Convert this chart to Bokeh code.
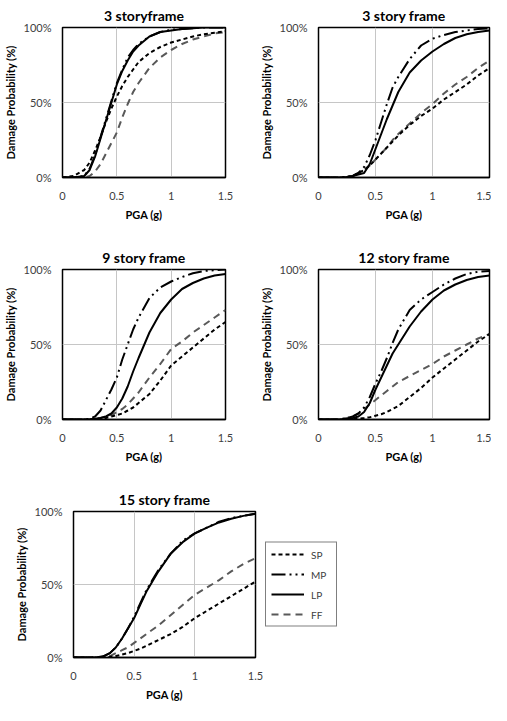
from bokeh.plotting import figure
from bokeh.layouts import column, row
from bokeh.models import Range1d, FixedTicker, Legend, LegendItem
from bokeh.embed import file_html
from bokeh.resources import INLINE

# PGA (g) sample points shared by all curves
pga = [0, 0.1, 0.2, 0.25, 0.3, 0.35, 0.4, 0.45, 0.5, 0.55, 0.6, 0.65, 0.7,
       0.8, 0.9, 1.0, 1.1, 1.2, 1.3, 1.4, 1.5]

titles = ["3 storyframe", "3 story frame", "9 story frame", "12 story frame", "15 story frame"]
series_names = ["SP", "MP", "LP", "FF"]

# Damage probability (%) per panel
sp_3a = [0, 1, 5, 10, 18, 27, 37, 46, 54, 61, 67, 72, 77, 83, 87, 90, 92, 94, 95.5, 96.5, 97.5]
mp_3a = [0, 0, 1, 6, 15, 27, 39, 51, 63, 72, 80, 85, 89, 94, 97, 98.5, 99, 99.5, 100, 100, 100]
lp_3a = [0, 0, 1, 5, 14, 26, 38, 50, 62, 71, 78, 84, 88, 94, 97, 98, 99, 99.5, 100, 100, 100]
ff_3a = [0, 0, 0, 1, 4, 9, 16, 23, 30, 40, 49, 57, 63, 73, 80, 85, 89, 92, 94, 96, 97]

sp_3b = [0, 0, 0, 0.3, 1, 3, 5, 8, 12, 16, 20, 24, 28, 35, 41, 46, 52, 57, 62, 68, 73]
mp_3b = [0, 0, 0, 0.5, 1, 3, 7, 15, 25, 37, 49, 60, 67, 79, 88, 92.5, 95, 97, 98, 99, 99.5]
lp_3b = [0, 0, 0, 0.3, 1, 2, 3, 9, 19, 29, 39, 48, 57, 70, 78, 84, 89, 93, 95.5, 97, 98]
ff_3b = [0, 0, 0, 0.3, 1, 3, 5, 8, 12, 16, 20, 25, 29, 36, 43, 49, 56, 62, 67, 73, 78]

sp_9 = [0, 0, 0, 0, 0.3, 0.6, 1, 2, 3, 4, 6, 8, 11, 17, 26, 36, 42, 48, 54, 60, 65]
mp_9 = [0, 0, 0, 0.5, 2, 6, 13, 20, 28, 40, 50, 60, 68, 81, 88, 92, 95, 97.5, 99, 99.5, 100]
lp_9 = [0, 0, 0, 0.2, 0.5, 1, 2, 4, 8, 14, 22, 32, 41, 58, 71, 80, 87, 91, 94, 96, 97]
ff_9 = [0, 0, 0, 0, 0.5, 1, 2, 3, 5, 7, 10, 14, 18, 28, 37, 47, 52, 58, 63, 68, 73]

sp_12 = [0, 0, 0, 0, 0.3, 0.6, 1, 1.5, 2.5, 3.5, 5, 7, 9, 15, 21, 28, 34, 40, 46, 52, 57]
mp_12 = [0, 0, 0, 1, 2, 4, 8, 15, 24, 32, 41, 51, 60, 73, 80, 85, 90, 94, 97, 98.5, 99]
lp_12 = [0, 0, 0, 0.5, 1, 2, 5, 11, 20, 28, 36, 44, 50, 62, 72, 80, 86, 90, 93, 95, 96]
ff_12 = [0, 0, 0.5, 1, 2, 4, 7, 10, 13, 16, 19, 22, 25, 29, 33, 37, 42, 46, 50, 54, 57]

sp_15 = [0, 0, 0, 0, 0.5, 1, 2, 3, 4.5, 6, 8, 10, 12, 16, 21, 27, 32, 37, 42, 47, 52]
mp_15 = [0, 0, 0.2, 1, 3, 7, 13, 20, 28, 37, 46, 53, 60, 71, 80, 85, 89, 93, 95.5, 97, 98.5]
lp_15 = [0, 0, 0.2, 1, 3, 7, 13, 20, 27, 36, 45, 52, 59, 71, 79, 85, 89, 92.5, 95, 97, 98.5]
ff_15 = [0, 0, 0, 0.3, 1, 3, 5, 7, 10, 13, 16, 19, 22, 29, 36, 43, 48, 53, 59, 64, 68]

x_ticks = [0, 0.5, 1, 1.5]
x_tick_labels = ["0", "0.5", "1", "1.5"]
y_ticks = [0, 50, 100]
y_tick_labels = ["0%", "50%", "100%"]

FONT = "Lato"
TICK_COLOR = "#404040"

styles = {
    "SP": dict(line_color="black", line_width=2, line_dash="4 3"),
    "MP": dict(line_color="black", line_width=2, line_dash="14 4 2 4 2 4"),
    "LP": dict(line_color="black", line_width=2),
    "FF": dict(line_color="#595959", line_width=2, line_dash="7 5"),
}


def make_panel(title, data, width, height, bl, br, bt, bb):
    p = figure(width=width, height=height, output_backend="svg", toolbar_location=None,
               x_range=Range1d(0, 1.5), y_range=Range1d(0, 100),
               min_border_left=bl, min_border_right=br, min_border_top=bt, min_border_bottom=bb,
               title=title)
    p.title.align = "center"
    p.title.text_font = FONT
    p.title.text_font_size = "14px"
    p.title.text_font_style = "bold"
    p.title.text_color = "black"
    p.title.standoff = 8

    p.xaxis.ticker = FixedTicker(ticks=x_ticks)
    p.xaxis.major_label_overrides = dict(zip(x_ticks, x_tick_labels))
    p.yaxis.ticker = FixedTicker(ticks=y_ticks)
    p.yaxis.major_label_overrides = dict(zip(y_ticks, y_tick_labels))
    for ax in (p.xaxis, p.yaxis):
        ax.major_tick_line_color = None
        ax.minor_tick_line_color = None
        ax.major_label_text_font = FONT
        ax.major_label_text_font_size = "11px"
        ax.major_label_text_color = TICK_COLOR
        ax.axis_label_text_font = FONT
        ax.axis_label_text_font_size = "11px"
        ax.axis_label_text_font_style = "bold"
        ax.axis_label_text_color = "black"
    p.xaxis.axis_label = "PGA (g)"
    p.yaxis.axis_label = "Damage Probability (%)"
    p.xaxis.major_label_standoff = 8
    p.xaxis.axis_label_standoff = 5
    p.yaxis.major_label_standoff = 5
    p.yaxis.axis_label_standoff = 4
    p.xaxis.axis_line_color = "black"
    p.xaxis.axis_line_width = 1.5
    p.yaxis.axis_line_color = None

    p.xgrid.ticker = FixedTicker(ticks=x_ticks)
    p.ygrid.ticker = FixedTicker(ticks=y_ticks)
    p.grid.grid_line_color = "#c6c6c6"
    p.grid.grid_line_width = 1
    p.outline_line_color = "black"
    p.outline_line_width = 1.5
    p.background_fill_color = "white"
    p.border_fill_color = "white"

    for name in ["FF", "SP", "LP", "MP"]:
        p.line(pga, data[name], **styles[name])
    return p


data = [
    {"SP": sp_3a, "MP": mp_3a, "LP": lp_3a, "FF": ff_3a},
    {"SP": sp_3b, "MP": mp_3b, "LP": lp_3b, "FF": ff_3b},
    {"SP": sp_9, "MP": mp_9, "LP": lp_9, "FF": ff_9},
    {"SP": sp_12, "MP": mp_12, "LP": lp_12, "FF": ff_12},
    {"SP": sp_15, "MP": mp_15, "LP": lp_15, "FF": ff_15},
]

p1 = make_panel(titles[0], data[0], 246, 242, 51, 21, 25, 65)
p2 = make_panel(titles[1], data[1], 245, 242, 72, 2, 25, 65)
p3 = make_panel(titles[2], data[2], 246, 242, 51, 21, 25, 65)
p4 = make_panel(titles[3], data[3], 245, 242, 72, 2, 25, 65)
p5 = make_panel(titles[4], data[4], 264, 219, 73, 9, 25, 40)

# Legend lives in its own small figure placed to the right of the last panel
lf = figure(width=80, height=219, output_backend="svg", toolbar_location=None,
            x_range=Range1d(0, 1.5), y_range=Range1d(0, 100),
            x_axis_type=None, y_axis_type=None,
            min_border_top=25, min_border_left=0, min_border_right=0, min_border_bottom=40,
            outline_line_color=None)
lf.grid.visible = False
lf.background_fill_color = "white"
lf.border_fill_color = "white"
leg_renderers = []
for name in series_names:
    r = lf.line(pga, data[4][name], **styles[name])
    r.visible = False
    leg_renderers.append(r)
items = [LegendItem(label=n, renderers=[r]) for n, r in zip(series_names, leg_renderers)]
lg = Legend(items=items, location="center_left",
            label_text_font=FONT, label_text_font_size="10px",
            label_text_color=TICK_COLOR, glyph_width=33, glyph_height=13,
            label_height=13, spacing=7, padding=5, margin=1,
            label_standoff=7, border_line_color="black", border_line_width=1.2,
            background_fill_alpha=1, inactive_fill_alpha=0)
lf.add_layout(lg, "center")

layout = column(row(p1, p2), row(p3, p4), row(p5, lf))

open("out.html", "w").write(file_html(layout, INLINE))
